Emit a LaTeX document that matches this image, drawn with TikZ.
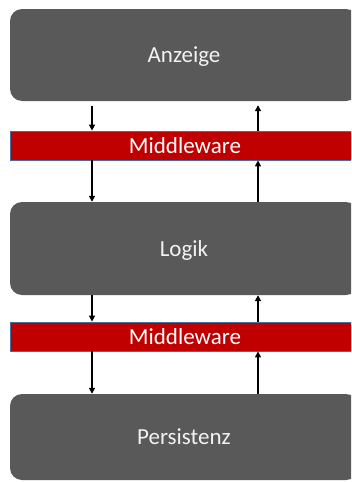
\documentclass[tikz,border=0pt]{standalone}
\usepackage{fontspec}
\setmainfont{Carlito}
\usetikzlibrary{arrows.meta}
\definecolor{layergray}{HTML}{595959}
\definecolor{layertext}{HTML}{F2F2F2}
\definecolor{mwred}{HTML}{C00000}
\definecolor{mwedge}{HTML}{41719C}
% zero-size box, baseline placed a little below the node centre
\newcommand{\lowered}[1]{\raisebox{-7.5pt}[0pt][0pt]{#1}}
\tikzset{
  layer/.style={fill=layergray, draw=none, rounded corners=12pt,
    minimum width=348pt, inner sep=0pt, text=layertext,
    font=\fontsize{23pt}{26pt}\selectfont},
  mwbar/.style={fill=mwred, draw=mwedge, line width=0.8pt,
    minimum width=350pt, minimum height=29pt, inner sep=0pt, text=white,
    font=\fontsize{23pt}{26pt}\selectfont},
  flow/.style={line width=1.4pt, -{Triangle[width=6pt,length=6pt]}}
}
\begin{document}
\begin{tikzpicture}[x=1pt,y=1pt]
  \useasboundingbox (0,0) rectangle (351,-482);
  \clip (0,0) rectangle (351,-482);
  \fill[white] (0,0) rectangle (351,-482);

  % layers
  \node[layer, minimum height=92pt] (anz) at (184,-55) {\lowered{Anzeige}};
  \node[mwbar] (mw1) at (185,-145.5) {Middleware};
  \node[layer, minimum height=93pt] (log) at (184,-248.5) {\lowered{Logik}};
  \node[mwbar] (mw2) at (185,-336.5) {Middleware};
  \node[layer, minimum height=86pt] (per) at (184,-437) {\lowered{Persistenz}};

  % arrow columns
  \coordinate (dn) at (92,0);
  \coordinate (up) at (258,0);

  % downward flow
  \draw[flow, shorten <=5pt] (anz.south -| dn) -- (mw1.north -| dn);
  \draw[flow] (mw1.south -| dn) -- (log.north -| dn);
  \draw[flow] (log.south -| dn) -- (mw2.north -| dn);
  \draw[flow] (mw2.south -| dn) -- (per.north -| dn);

  % upward flow
  \draw[flow, shorten >=4pt] (mw1.north -| up) -- (anz.south -| up);
  \draw[flow] (log.north -| up) -- (mw1.south -| up);
  \draw[flow] (mw2.north -| up) -- (log.south -| up);
  \draw[flow] (per.north -| up) -- (mw2.south -| up);
\end{tikzpicture}
\end{document}
